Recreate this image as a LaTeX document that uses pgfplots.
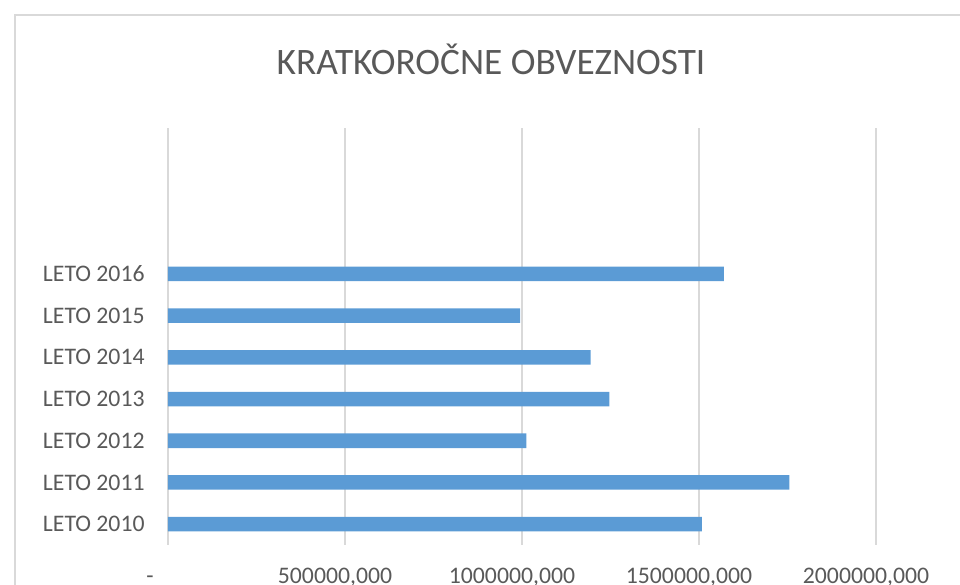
\documentclass[border=0pt]{standalone}
\usepackage{pgfplots}
\pgfplotsset{compat=1.18}
\usepackage{fontspec}
\setmainfont{Carlito}
\definecolor{barblue}{HTML}{5B9BD5}
\definecolor{txtgray}{HTML}{595959}
\definecolor{gridgray}{HTML}{D9D9D9}

\begin{document}
\begin{tikzpicture}[x=0.75pt,y=0.75pt]
\useasboundingbox (0,0) rectangle (960,585);
% chart frame (cut off at right and bottom like the screenshot)
\draw[gridgray, line width=1.2pt] (15,0) -- (15,570) -- (960,570);
\node[txtgray, font=\fontsize{28}{33}\selectfont] at (491,526) {KRATKOROČNE OBVEZNOSTI};
\begin{axis}[
  at={(126pt,30pt)}, anchor=south west,
  scale only axis, width=531pt, height=312.75pt,
  xmin=0, xmax=2000000, ymin=0.5, ymax=10.5,
  axis line style={draw=none},
  major tick length=0pt,
  xtick={0,500000,1000000,1500000,2000000},
  xticklabels={{\vphantom{0}-\hspace*{12pt}},{500000,000},{1000000,000},{1500000,000},{2000000,000}},
  ytick={1,2,3,4,5,6,7},
  yticklabels={LETO 2010,LETO 2011,LETO 2012,LETO 2013,LETO 2014,LETO 2015,LETO 2016},
  xmajorgrids, grid style={gridgray, line width=1.1pt},
  tick label style={txtgray, font=\fontsize{17.8}{21}\selectfont},
  xticklabel style={yshift=-13.5pt, xshift=-7.5pt},
  yticklabel style={xshift=-14pt},
  scaled x ticks=false,
  xbar, bar width=10.9pt,
]
\addplot[fill=barblue, draw=none] coordinates {
  (1508000,1) (1755000,2) (1012000,3) (1247000,4) (1194000,5) (995000,6) (1570000,7)
};
\end{axis}
\end{tikzpicture}
\end{document}
